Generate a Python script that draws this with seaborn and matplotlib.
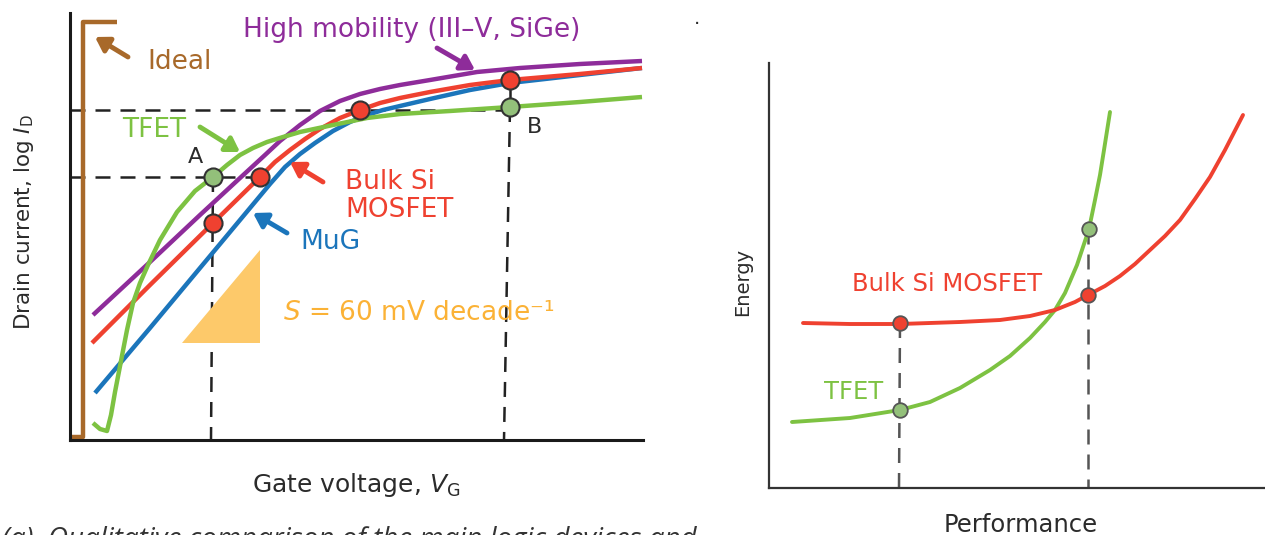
import matplotlib
matplotlib.use("Agg")
import matplotlib.pyplot as plt
import seaborn as sns

# ---- left panel: drain current vs gate voltage (units) ----
ideal_x = [0, 13, 13, 47]
ideal_y = [3, 3, 418, 418]

high_mob_x = [23, 80, 130, 170, 195, 210, 230, 250, 270, 290, 310, 330, 360, 407, 450, 510, 572]
high_mob_y = [125, 178, 225, 262, 285, 299, 315, 329, 339, 346, 351, 355, 360, 368, 372, 376, 379]

bulk_x = [22, 80, 143, 190, 205, 220, 235, 250, 270, 290, 310, 330, 360, 400, 440, 510, 572]
bulk_y = [97, 155, 217, 263, 278, 290, 301, 311, 322, 330, 337, 342, 348, 355, 360, 366, 372]

mug_x = [25, 80, 130, 180, 200, 215, 230, 245, 263, 280, 297, 313, 330, 360, 400, 440, 510, 572]
mug_y = [47, 112, 172, 232, 256, 273, 286, 297, 309, 318, 325, 330, 334, 341, 350, 357, 365, 372]

tfet_x = [23, 30, 37, 41, 45, 51, 57, 63, 70, 78, 90, 107, 125, 143, 157, 170, 183, 197, 213, 230,
          263, 297, 330, 380, 440, 510, 572]
tfet_y = [17, 11, 9, 25, 48, 79, 110, 137, 157, 175, 200, 228, 249, 263, 275, 285, 292, 298, 303, 308,
          315, 322, 326, 329, 333, 338, 343]

red_pts_x = [143, 190, 290, 440]
red_pts_y = [217, 263, 330, 360]
green_pts_x = [143, 440]
green_pts_y = [263, 333]

slope_tri_x = [112, 190, 190]
slope_tri_y = [97, 97, 190]

# ---- right panel: energy vs performance ----
e_bulk_x = [34, 81, 131, 191, 231, 261, 286, 306, 319, 336, 351, 366, 381, 396, 411, 426, 441, 456, 474]
e_bulk_y = [165, 164, 164, 166, 168, 172, 178, 186, 193, 202, 212, 224, 238, 252, 268, 289, 311, 338, 373]
e_tfet_x = [23, 81, 131, 161, 191, 221, 241, 261, 276, 286, 296, 308, 320, 326, 331, 335, 341]
e_tfet_y = [66, 70, 78, 86, 100, 118, 132, 150, 166, 178, 195, 223, 259, 288, 313, 338, 376]
e_red_pts_x = [131, 319]
e_red_pts_y = [165, 193]
e_green_pts_x = [131, 320]
e_green_pts_y = [78, 259]

BROWN = "#a8692a"
PURPLE = "#8e2c9a"
RED = "#ef4130"
BLUE = "#1b75bb"
GREEN = "#7dc242"
DOT_GREEN = "#93c07a"
ORANGE_FILL = "#fdc96a"
ORANGE_TXT = "#fbb236"
TXT = "#2b2b2b"

sns.set_style("white")
plt.rcParams["font.family"] = ["DejaVu Sans"]
plt.rcParams["mathtext.fontset"] = "dejavusans"

fig = plt.figure(figsize=(12.65, 5.35), dpi=100)
ax = fig.add_axes([70 / 1265, 95 / 535, 573 / 1265, 427 / 535])
ax2 = fig.add_axes([769 / 1265, 47 / 535, 496 / 1265, 425 / 535])

# left panel
ax.set_xlim(0, 573)
ax.set_ylim(0, 427)
dash = (0, (6, 4))
ax.plot([0, 440], [330, 330], color="#222222", lw=1.8, ls=dash, zorder=1)
ax.plot([0, 190], [263, 263], color="#222222", lw=1.8, ls=dash, zorder=1)
ax.plot([143, 141], [263, 0], color="#222222", lw=1.8, ls=dash, zorder=1)
ax.plot([440, 434], [333, 0], color="#222222", lw=1.8, ls=dash, zorder=1)
ax.plot([440, 440], [333, 360], color="#222222", lw=1.8, zorder=1)

ax.fill(slope_tri_x, slope_tri_y, color=ORANGE_FILL, lw=0, zorder=1)

for xs, ys, c in [(ideal_x, ideal_y, BROWN), (high_mob_x, high_mob_y, PURPLE),
                  (mug_x, mug_y, BLUE), (bulk_x, bulk_y, RED), (tfet_x, tfet_y, GREEN)]:
    sns.lineplot(x=xs, y=ys, ax=ax, color=c, lw=3.2, sort=False, estimator=None,
                 zorder=2, solid_capstyle="butt", solid_joinstyle="round")

sns.scatterplot(x=red_pts_x, y=red_pts_y, ax=ax, color=RED, s=170, edgecolor="#333333",
                linewidth=1.5, zorder=4)
sns.scatterplot(x=green_pts_x, y=green_pts_y, ax=ax, color=DOT_GREEN, s=170, edgecolor="#333333",
                linewidth=1.5, zorder=4)


def arrow(a, tail, head, c):
    a.annotate("", xy=head, xytext=tail,
               arrowprops=dict(arrowstyle="-|>,head_length=0.8,head_width=0.5", color=c, lw=3.5,
                               shrinkA=0, shrinkB=0))


fs = 19
ax.text(77, 378, "Ideal", color=BROWN, fontsize=fs, va="center")
arrow(ax, (58, 383), (25, 403), BROWN)
ax.text(173, 410, "High mobility (III–V, SiGe)", color=PURPLE, fontsize=fs, va="center")
arrow(ax, (367, 392), (405, 370), PURPLE)
ax.text(52, 310, "TFET", color=GREEN, fontsize=fs, va="center")
arrow(ax, (130, 313), (170, 288), GREEN)
ax.text(125, 283, "A", color=TXT, fontsize=16, ha="center", va="center")
ax.text(465, 313, "B", color=TXT, fontsize=16, ha="center", va="center")
ax.text(275, 244, "Bulk Si\nMOSFET", color=RED, fontsize=fs, va="center", linespacing=1.1)
arrow(ax, (253, 258), (220, 278), RED)
ax.text(230, 198, "MuG", color=BLUE, fontsize=fs, va="center")
arrow(ax, (217, 207), (183, 227), BLUE)
ax.text(213, 127, r"$S$ = 60 mV decade⁻¹", color=ORANGE_TXT, fontsize=fs, va="center")

ax.set_xticks([])
ax.set_yticks([])
for side in ["top", "right"]:
    ax.spines[side].set_visible(False)
for side in ["left", "bottom"]:
    ax.spines[side].set_color("#1a1a1a")
    ax.spines[side].set_linewidth(2.2)
ax.set_ylabel(r"Drain current, log $I_{\mathrm{D}}$", fontsize=15.5, color=TXT)
ax.yaxis.set_label_coords(-0.06, 0.51)
ax.set_xlabel(r"Gate voltage, $V_{\mathrm{G}}$", fontsize=18, color=TXT)
ax.xaxis.set_label_coords(0.50, -0.072)

# right panel
ax2.set_xlim(0, 496)
ax2.set_ylim(0, 425)
ax2.plot([131, 130], [165, 0], color="#555555", lw=1.8, ls=dash, zorder=1)
ax2.plot([319, 319], [259, 0], color="#555555", lw=1.8, ls=dash, zorder=1)
sns.lineplot(x=e_tfet_x, y=e_tfet_y, ax=ax2, color=GREEN, lw=2.8, sort=False, estimator=None,
             zorder=2, solid_joinstyle="round")
sns.lineplot(x=e_bulk_x, y=e_bulk_y, ax=ax2, color=RED, lw=2.8, sort=False, estimator=None,
             zorder=2, solid_joinstyle="round")
sns.scatterplot(x=e_red_pts_x, y=e_red_pts_y, ax=ax2, color=RED, s=110, edgecolor="#555555",
                linewidth=1.3, zorder=4)
sns.scatterplot(x=e_green_pts_x, y=e_green_pts_y, ax=ax2, color=DOT_GREEN, s=110, edgecolor="#555555",
                linewidth=1.3, zorder=4)
ax2.text(83, 204, "Bulk Si MOSFET", color=RED, fontsize=17.5, va="center")
ax2.text(55, 96, "TFET", color=GREEN, fontsize=17.5, va="center")

ax2.set_xticks([])
ax2.set_yticks([])
for side in ["top", "right"]:
    ax2.spines[side].set_visible(False)
for side in ["left", "bottom"]:
    ax2.spines[side].set_color("#333333")
    ax2.spines[side].set_linewidth(1.6)
ax2.set_ylabel("Energy", fontsize=14, color=TXT)
ax2.yaxis.set_label_coords(-0.034, 0.485)
ax2.set_xlabel("Performance", fontsize=17.5, color=TXT)
ax2.xaxis.set_label_coords(0.508, -0.058)

# stray dot and cut-off caption
fig.text(697 / 1265, 1 - 18 / 535, ".", fontsize=14, color=TXT, ha="center", va="center")
fig.text(2 / 1265, -12 / 535, "(a)  Qualitative comparison of the main logic devices and",
         fontsize=20, style="italic", color="#333333", family=["Open Sans", "DejaVu Sans"],
         va="baseline")

fig.savefig("out.png", dpi=100)
